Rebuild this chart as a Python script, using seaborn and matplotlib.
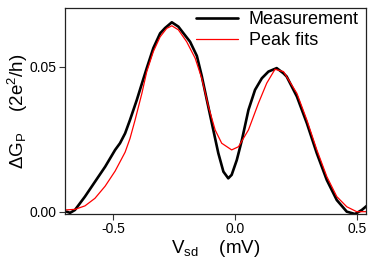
import matplotlib
matplotlib.use("Agg")
import matplotlib.pyplot as plt
import seaborn as sns
import pandas as pd

# Measurement (black)
meas_x = [-0.692, -0.678, -0.658, -0.617, -0.576, -0.534, -0.493, -0.473, -0.452, -0.432,
          -0.404, -0.384, -0.363, -0.336, -0.308, -0.288, -0.260, -0.233, -0.212, -0.185,
          -0.157, -0.137, -0.116, -0.095, -0.069, -0.048, -0.028, -0.014, 0.007, 0.028,
          0.055, 0.082, 0.110, 0.137, 0.171, 0.199, 0.212, 0.254, 0.295, 0.336,
          0.377, 0.418, 0.459, 0.493, 0.521, 0.541]
meas_y = [0.0000, -0.0004, 0.0006, 0.0052, 0.0103, 0.0155, 0.0213, 0.0236, 0.0270, 0.0316,
          0.0385, 0.0439, 0.0495, 0.0564, 0.0615, 0.0633, 0.0653, 0.0638, 0.0615, 0.0586,
          0.0537, 0.0468, 0.0385, 0.0303, 0.0202, 0.0138, 0.0115, 0.0127, 0.0178, 0.0247,
          0.0351, 0.0420, 0.0460, 0.0483, 0.0495, 0.0477, 0.0466, 0.0397, 0.0305, 0.0201,
          0.0109, 0.0040, 0.0000, -0.0008, 0.0006, 0.0020]

# Peak fits (red)
fit_x = [-0.699, -0.658, -0.617, -0.576, -0.534, -0.493, -0.452, -0.432, -0.411, -0.383,
         -0.363, -0.336, -0.308, -0.281, -0.260, -0.233, -0.199, -0.164, -0.137, -0.110,
         -0.082, -0.055, -0.014, 0.014, 0.055, 0.096, 0.130, 0.164, 0.199, 0.254,
         0.295, 0.336, 0.377, 0.418, 0.459, 0.500, 0.541]
fit_y = [0.0006, 0.0008, 0.0020, 0.0046, 0.0088, 0.0140, 0.0205, 0.0252, 0.0316, 0.0408,
         0.0483, 0.0552, 0.0603, 0.0632, 0.0641, 0.0627, 0.0586, 0.0529, 0.0460, 0.0364,
         0.0282, 0.0236, 0.0213, 0.0224, 0.0282, 0.0374, 0.0443, 0.0491, 0.0483, 0.0408,
         0.0316, 0.0213, 0.0121, 0.0052, 0.0017, 0.0000, 0.0000]

x_ticks = [-0.5, 0.0, 0.5]
x_ticklabels = ["-0.5", "0.0", "0.5"]
y_ticks = [0.00, 0.05]
y_ticklabels = ["0.00", "0.05"]

sns.set_style("ticks")
plt.rcParams["font.family"] = ["Liberation Sans", "DejaVu Sans"]
plt.rcParams["mathtext.fontset"] = "custom"
plt.rcParams["mathtext.rm"] = "Liberation Sans"
plt.rcParams["mathtext.it"] = "Liberation Sans:italic"
plt.rcParams["text.color"] = "black"
plt.rcParams["axes.labelcolor"] = "black"
plt.rcParams["xtick.color"] = "black"
plt.rcParams["ytick.color"] = "black"

fig = plt.figure(figsize=(3.81, 2.70), dpi=100)
ax = fig.add_axes([0.1706, 0.2074, 0.79, 0.7616])

df_m = pd.DataFrame({"x": meas_x, "y": meas_y})
df_f = pd.DataFrame({"x": fit_x, "y": fit_y})
sns.lineplot(data=df_m, x="x", y="y", ax=ax, color="black", linewidth=1.9,
             estimator=None, sort=False, label="Measurement",
             solid_joinstyle="round", solid_capstyle="round")
sns.lineplot(data=df_f, x="x", y="y", ax=ax, color="#ff0000", linewidth=0.9,
             estimator=None, sort=False, label="Peak fits",
             solid_joinstyle="round")

ax.set_xlim(-0.699, 0.538)
ax.set_ylim(-0.0008, 0.0701)
ax.set_xticks(x_ticks)
ax.set_xticklabels(x_ticklabels)
ax.set_yticks(y_ticks)
ax.set_yticklabels(y_ticklabels)
ax.tick_params(direction="out", length=4, width=0.8, labelsize=10, pad=2,
               color="#333333", labelcolor="black")
for s in ax.spines.values():
    s.set_visible(True)
    s.set_linewidth(0.9)
    s.set_color("#222222")

ax.set_xlabel(r"V$_{\rm sd}$    (mV)", fontsize=13.5, labelpad=1, color="black")
ax.set_ylabel(r"$\Delta$G$_{\rm P}$    (2e$^2$/h)", fontsize=13.5, labelpad=0, color="black")

leg = ax.legend(loc="upper right", frameon=False, fontsize=13, handlelength=2.3,
                handletextpad=0.6, borderaxespad=0.0, labelspacing=0.2,
                bbox_to_anchor=(1.0, 1.02))
for t in leg.get_texts():
    t.set_color("black")

fig.savefig("out.png", dpi=100)
